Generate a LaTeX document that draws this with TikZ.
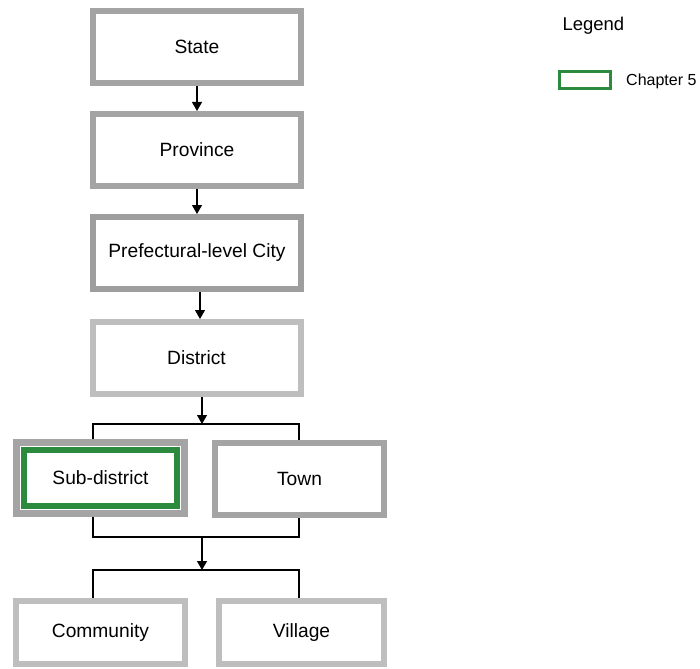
\documentclass[tikz,border=0pt]{standalone}
\usepackage{fontspec}
\setmainfont{Liberation Sans}
\usetikzlibrary{arrows.meta}
\definecolor{chapgreen}{RGB}{44,138,62}
\definecolor{gmid}{RGB}{164,164,164}
\definecolor{gdark}{RGB}{158,158,158}
\definecolor{glight}{RGB}{190,190,190}
\begin{document}
\begin{tikzpicture}[x=1pt,y=-1pt,
  unitbox/.style={draw=gmid, line width=6pt, fill=white, minimum width=208pt,
    minimum height=72pt, inner sep=0pt, font=\fontsize{19.2}{22}\selectfont},
  lowbox/.style={unitbox, minimum width=169pt},
  link/.style={line width=1.1pt, black},
  arr/.style={link, -{Triangle[length=9pt,width=10pt]}}]
\useasboundingbox (0,0) rectangle (700,668);

% administrative hierarchy
\node[unitbox] (state) at (197,47) {State};
\node[unitbox] (province) at (197,150) {Province};
\node[unitbox, draw=gdark] (city) at (197,253) {Prefectural-level City};
\node[unitbox, draw=glight] (district) at (196.5,358) {District};

\node[lowbox, line width=7pt, minimum width=168pt, minimum height=71pt] (subdistrict) at (100.5,478) {};
\node[draw=chapgreen, line width=6pt, minimum width=153pt, minimum height=56pt,
  inner sep=0pt, font=\fontsize{19.2}{22}\selectfont] (subinner) at (100.5,478) {Sub-district};
\node[lowbox] (town) at (299.5,478.5) {Town};

\node[lowbox, draw=glight, minimum height=63pt] (community) at (100.5,632.5) {Community};
\node[lowbox, draw=glight, minimum width=165pt, minimum height=63pt] (village) at (301.5,632.5) {Village};

% connectors
\draw[arr] (state) -- (province);
\draw[arr] (province) -- (city);
\draw[arr] (city.south -| 200,0) -- (district.north -| 200,0);

\coordinate (split1) at (202,424);
\draw[arr] (district.south -| split1) -- (split1);
\draw[link] (subdistrict.north -| 93,0) |- (split1) -| (town.north -| 299,0);

\coordinate (join2) at (202,537);
\coordinate (split2) at (202,570);
\draw[link] (subdistrict.south -| 93,0) |- (join2) -| (town.south -| 299,0);
\draw[arr] (join2) -- (split2);
\draw[link] (community.north -| 93,0) |- (split2) -| (village.north -| 299,0);

% legend
\node[anchor=west, font=\fontsize{18.5}{22}\selectfont] (legend) at (559,26) {Legend};
\node[draw=chapgreen, line width=2.6pt, minimum width=51pt, minimum height=17pt,
  inner sep=0pt] (legkey) at (585,80) {};
\node[anchor=west, font=\fontsize{16}{19}\selectfont, inner sep=0pt] (legtext) at (626,81) {Chapter 5};
\end{tikzpicture}
\end{document}
